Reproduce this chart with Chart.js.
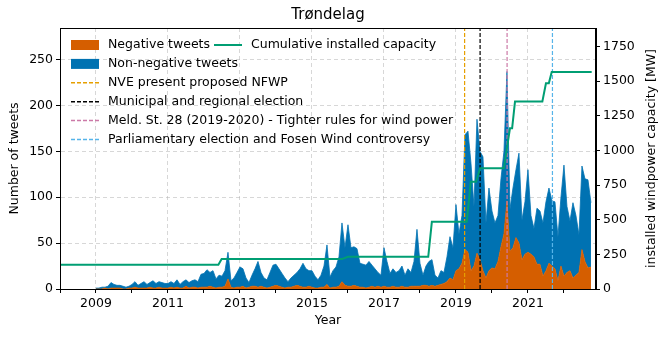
<!DOCTYPE html>
<html>
<head>
<meta charset="utf-8">
<script src="https://cdn.jsdelivr.net/npm/chart.js@4.4.0/dist/chart.umd.min.js"></script>
<style>
  html, body { margin: 0; padding: 0; background: #fff; }
</style>
</head>
<body>
<canvas id="chart" width="665" height="338"></canvas>
<script>
// monthly tweet counts, Jan 2009 .. Oct 2022
const firstYear = 2009;
const allTweets = [
  1, 1, 2, 2, 3, 7, 5, 4, 4, 3, 2, 3,          // 2009
  5, 8, 4, 6, 8, 5, 7, 9, 6, 8, 7, 6,          // 2010
  6, 8, 6, 10, 5, 8, 10, 7, 9, 10, 8, 16,      // 2011
  17, 21, 18, 20, 11, 15, 14, 20, 40, 9, 12, 18, // 2012
  24, 22, 12, 7, 15, 22, 30, 18, 12, 10, 18, 26, // 2013
  27, 22, 17, 12, 8, 12, 15, 18, 22, 28, 22, 20, // 2014
  20, 14, 10, 15, 25, 48, 13, 20, 24, 35, 72, 45, // 2015
  70, 45, 46, 44, 28, 27, 26, 30, 26, 22, 18, 15, // 2016
  45, 30, 17, 22, 18, 20, 25, 15, 22, 18, 30, 65, // 2017
  28, 15, 25, 30, 32, 15, 12, 20, 18, 35, 57, 45, // 2018
  92, 60, 80, 168, 172, 137, 90, 185, 150, 144, 72, 110, // 2019
  85, 72, 80, 120, 150, 237, 87, 110, 130, 148, 75, 95,  // 2020
  130, 80, 66, 88, 85, 72, 95, 110, 96, 95, 57, 100,     // 2021
  135, 90, 74, 94, 80, 59, 134, 120, 119, 94             // 2022
];
const negativeTweets = [
  0, 0, 0, 1, 0, 1, 1, 1, 1, 0, 0, 1,
  1, 2, 1, 1, 1, 1, 2, 1, 1, 2, 1, 1,
  1, 2, 1, 2, 1, 1, 3, 1, 2, 2, 1, 2,
  2, 2, 3, 2, 1, 2, 2, 3, 11, 2, 1, 2,
  2, 3, 1, 2, 3, 3, 2, 3, 2, 1, 2, 3,
  4, 3, 2, 1, 2, 2, 3, 4, 3, 2, 2, 3,
  2, 1, 1, 2, 2, 5, 1, 2, 2, 3, 8, 4,
  3, 3, 4, 3, 2, 2, 1, 2, 3, 2, 3, 2,
  3, 2, 2, 3, 2, 2, 3, 2, 2, 3, 3, 3,
  3, 4, 4, 3, 4, 3, 4, 5, 6, 8, 12, 10,
  20, 22, 28, 43, 40, 20, 25, 39, 32, 20, 12, 20,
  23, 22, 30, 46, 60, 96, 41, 45, 56, 50, 32, 38,
  40, 38, 35, 27, 27, 14, 20, 28, 25, 22, 9, 25,
  14, 18, 20, 12, 15, 18, 43, 30, 23, 24
];

// cumulative installed capacity (MW), vertices of the line
const capYears = [2008.0, 2012.40, 2012.49, 2015.83, 2016.0, 2018.23, 2018.33, 2019.30, 2019.41,
  2019.56, 2019.67, 2020.33, 2020.50, 2020.56, 2020.64, 2021.40, 2021.50, 2021.58, 2021.66, 2022.77];
const capMW = [175, 175, 216, 216, 232, 232, 485, 485, 775,
  775, 871, 871, 1160, 1160, 1353, 1353, 1485, 1485, 1567, 1567];

// events
const eventLabels = [
  "NVE present proposed NFWP",
  "Municipal and regional election",
  "Meld. St. 28 (2019-2020) - Tighter rules for wind power",
  "Parliamentary election and Fosen Wind controversy"
];
const eventDates = [2019.24, 2019.67, 2020.42, 2021.68];
const eventColors = ["#E69F00", "#000000", "#CC79A7", "#56B4E9"];

const yearTicks = [2008, 2009, 2010, 2011, 2012, 2013, 2014, 2015, 2016, 2017, 2018, 2019, 2020, 2021, 2022];
const tweetTicks = [0, 50, 100, 150, 200, 250];
const capTicks = [0, 250, 500, 750, 1000, 1250, 1500, 1750];

const FONT = '"DejaVu Sans", sans-serif';
const monthX = i => firstYear + i / 12;

const negData = negativeTweets.map((v, i) => ({ x: monthX(i), y: v }));
const allData = allTweets.map((v, i) => ({ x: monthX(i), y: v }));
const capData = capYears.map((x, i) => ({ x: x, y: capMW[i] }));

const datasets = [
  {
    label: "Cumulative installed capacity",
    data: capData,
    yAxisID: "y2",
    borderColor: "#009E73",
    borderWidth: 2,
    pointRadius: 0,
    fill: false,
    order: 0
  }
];
eventDates.forEach((d, i) => {
  datasets.push({
    label: eventLabels[i],
    data: [{ x: d, y: 0 }, { x: d, y: 1 }],
    yAxisID: "yEv",
    borderColor: eventColors[i],
    borderWidth: 1.2,
    borderDash: [4, 2],
    pointRadius: 0,
    fill: false,
    order: 1
  });
});
datasets.push({
  label: "Negative tweets",
  data: negData,
  yAxisID: "y",
  borderColor: "#D55E00",
  backgroundColor: "#D55E00",
  borderWidth: 0.8,
  pointRadius: 0,
  fill: "origin",
  order: 2
});
datasets.push({
  label: "Non-negative tweets",
  data: allData,
  yAxisID: "y",
  borderColor: "#0072B2",
  backgroundColor: "#0072B2",
  borderWidth: 0.8,
  pointRadius: 0,
  fill: "-1",
  order: 3
});

const gridColor = "rgba(176,176,176,0.5)";

// title, right axis label, frame, legend
const decor = {
  id: "decor",
  afterDraw(chart) {
    const ctx = chart.ctx;
    const a = chart.chartArea;
    ctx.save();
    ctx.fillStyle = "#000";
    ctx.textBaseline = "middle";
    ctx.textAlign = "center";
    ctx.font = "15px " + FONT;
    ctx.fillText("Trøndelag", (a.left + a.right) / 2, 15);

    ctx.save();
    ctx.translate(652, (a.top + a.bottom) / 2);
    ctx.rotate(-Math.PI / 2);
    ctx.font = "12.5px " + FONT;
    ctx.fillText("installed windpower capacity [MW]", 0, 0);
    ctx.restore();

    ctx.strokeStyle = "#000";
    ctx.lineWidth = 1;
    ctx.strokeRect(a.left + 0.5, a.top + 0.5, a.right - a.left - 1, a.bottom - a.top);

    // legend
    ctx.textAlign = "left";
    ctx.font = "12.5px " + FONT;
    const rowY = r => 45 + r * 18.9;
    const byLabel = l => datasets.find(d => d.label === l);
    const rows = ["Negative tweets", "Non-negative tweets"].concat(eventLabels);
    rows.forEach((l, r) => {
      const ds = byLabel(l);
      const y = rowY(r);
      if (ds.fill) {
        ctx.fillStyle = ds.backgroundColor;
        ctx.fillRect(71, y - 5, 28, 10);
      } else {
        ctx.strokeStyle = ds.borderColor;
        ctx.lineWidth = 1.5;
        ctx.setLineDash([4, 2]);
        ctx.beginPath();
        ctx.moveTo(71, y);
        ctx.lineTo(99, y);
        ctx.stroke();
        ctx.setLineDash([]);
      }
      ctx.fillStyle = "#000";
      ctx.fillText(l, 108, y);
    });
    const cap = datasets[0];
    ctx.strokeStyle = cap.borderColor;
    ctx.lineWidth = 2;
    ctx.beginPath();
    ctx.moveTo(214, rowY(0));
    ctx.lineTo(242, rowY(0));
    ctx.stroke();
    ctx.fillStyle = "#000";
    ctx.fillText(cap.label, 251, rowY(0));
    ctx.restore();
  }
};

new Chart(document.getElementById("chart"), {
  type: "line",
  data: { datasets: datasets },
  plugins: [decor],
  options: {
    responsive: false,
    animation: false,
    layout: { padding: { top: 28, left: 0, right: 0, bottom: 0 } },
    elements: { line: { tension: 0 } },
    plugins: {
      legend: { display: false },
      title: { display: false },
      tooltip: { enabled: false }
    },
    scales: {
      x: {
        type: "linear",
        min: 2008,
        max: 2022.89,
        afterBuildTicks: s => { s.ticks = yearTicks.map(v => ({ value: v })); },
        afterFit: s => { s.height = 49; },
        ticks: {
          autoSkip: false,
          maxRotation: 0,
          padding: 3,
          color: "#000",
          font: { family: FONT, size: 12.5 },
          callback: v => (v % 2 === 1 ? String(v) : "")
        },
        grid: {
          color: c => (c.tick && c.tick.value % 2 === 1 ? gridColor : "rgba(0,0,0,0)"),
          tickColor: "#000",
          tickLength: 4,
          lineWidth: 1
        },
        border: { display: true, color: "#000", dash: [4, 3] },
        title: {
          display: true,
          text: "Year",
          color: "#000",
          font: { family: FONT, size: 12.5 },
          padding: { top: 0, bottom: 9.5 }
        }
      },
      y: {
        position: "left",
        min: 0,
        max: 284.4,
        afterBuildTicks: s => { s.ticks = tweetTicks.map(v => ({ value: v })); },
        afterFit: s => { s.width = 60; },
        ticks: {
          padding: 3,
          color: "#000",
          font: { family: FONT, size: 12.5 },
          callback: v => String(v)
        },
        grid: {
          color: c => (c.tick && c.tick.value > 0 ? gridColor : "rgba(0,0,0,0)"),
          tickColor: "#000",
          tickLength: 4
        },
        border: { display: true, color: "#000", dash: [4, 3] },
        title: {
          display: true,
          text: "Number of tweets",
          color: "#000",
          font: { family: FONT, size: 12.5 },
          padding: { top: 7.5, bottom: 0 }
        }
      },
      y2: {
        position: "right",
        min: 0,
        max: 1884,
        afterBuildTicks: s => { s.ticks = capTicks.map(v => ({ value: v })); },
        afterFit: s => { s.width = 69; },
        ticks: {
          padding: 3,
          color: "#000",
          font: { family: FONT, size: 12.5 },
          callback: v => String(v)
        },
        grid: {
          drawOnChartArea: false,
          tickColor: "#000",
          tickLength: 4
        },
        border: { display: true, color: "#000" }
      },
      yEv: {
        display: false,
        min: 0,
        max: 1
      }
    }
  }
});
</script>
</body>
</html>
